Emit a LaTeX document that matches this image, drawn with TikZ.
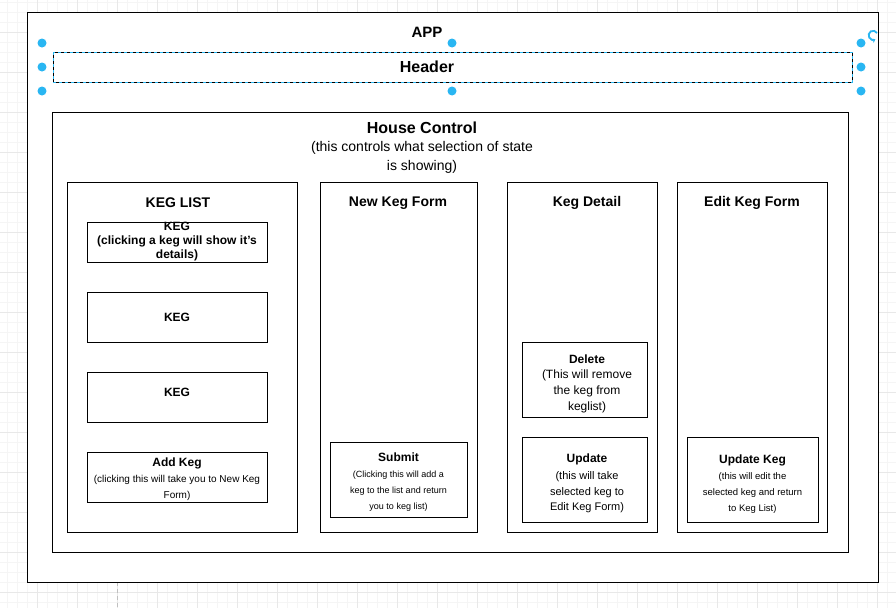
\documentclass[tikz,border=0pt]{standalone}
\usepackage{fontspec}
\setmainfont{Liberation Sans}
\usetikzlibrary{arrows.meta}
\definecolor{hcol}{HTML}{29B6F2}
\newcommand\fsz[2]{\fontsize{#1}{#2}\selectfont}
\newcommand\mybox[5]{\node[box, minimum width={#4-#2}, minimum height={#5-#3}] (#1) at ({(#2+#4)/2},{(#3+#5)/2}) {};}
\begin{document}
\begin{tikzpicture}[x=1pt,y=-1pt,
  box/.style={draw=black, line width=1pt, fill=white, inner sep=0pt, outer sep=0pt},
  txt/.style={inner sep=0pt, align=center, text=black},
  minorline/.style={draw=black!4, line width=0.6pt},
  majorline/.style={draw=black!9, line width=0.8pt},
  handle/.style={fill=hcol}]
\useasboundingbox (0,0) rectangle (896,608);
\fill[white] (0,0) rectangle (896,608);
% grid
\foreach \i in {0,...,89} \draw[minorline] ({7+10*\i},0) -- ({7+10*\i},608);
\foreach \j in {0,...,60} \draw[minorline] (0,{2+10*\j}) -- (896,{2+10*\j});
\foreach \i in {0,...,22} \draw[majorline] ({37+40*\i},0) -- ({37+40*\i},608);
\foreach \j in {0,...,15} \draw[majorline] (0,{32+40*\j}) -- (896,{32+40*\j});
\draw[black!25, line width=0.8pt, dash pattern=on 4pt off 3pt] (117,582) -- (117,608);
% boxes
\mybox{app}{27}{12}{878}{582}
\node[txt, font=\fsz{15}{18}\bfseries] (tapp) at (427,32) {APP};
\node[draw=black, line width=1pt, fill=white, inner sep=0pt, outer sep=0pt, minimum width=799pt, minimum height=30pt] (header) at (452.5,67) {};
\draw[hcol, line width=1pt, dash pattern=on 3pt off 3pt] (header.north west) rectangle (header.south east);
\node[txt, font=\fsz{16}{19}\bfseries] (theader) at (427,67) {Header};
\mybox{house}{52}{112}{848}{552}
\node[txt, font=\fsz{16}{19}\bfseries] (thouse) at (422,128) {House Control};
\node[txt, font=\fsz{14}{19}] (shouse) at (422,157.5) {(this controls what selection of state\\is showing)};
% columns
\mybox{keglist}{67}{182}{297}{532}
\mybox{newkeg}{320}{182}{477}{532}
\mybox{kegdetail}{507}{182}{657}{532}
\mybox{editkeg}{677}{182}{827}{532}
\node[txt, font=\fsz{14}{16}\bfseries] (tkeglist) at (178,203) {KEG LIST};
\node[txt, font=\fsz{14}{16}\bfseries] (tnewkeg) at (398,203) {New Keg Form};
\node[txt, font=\fsz{14}{16}\bfseries] (tkegdetail) at (587,203) {Keg Detail};
\node[txt, font=\fsz{14}{16}\bfseries] (teditkeg) at (752,203) {Edit Keg Form};
% keg list items
\mybox{keg1}{87}{222}{267}{262}
\mybox{keg2}{87}{292}{267}{342}
\mybox{keg3}{87}{372}{267}{422}
\mybox{addkeg}{87}{452}{267}{502}
\node[txt, font=\fsz{12}{14}\bfseries] (tkeg1) at (177,242) {KEG\\(clicking a keg will show it's\\details)};
\node[txt, font=\fsz{12}{14}\bfseries] (tkeg2) at (177,317) {KEG};
\node[txt, font=\fsz{12}{14}\bfseries] (tkeg3) at (177,392) {KEG};
\node[txt, font=\fsz{12}{14}\bfseries] (taddkeg) at (177,463) {Add Keg};
\node[txt, font=\fsz{10}{16}] (baddkeg) at (177,488) {(clicking this will take you to New Keg\\Form)};
% new keg form
\mybox{submit}{330}{442}{467}{517}
\node[txt, font=\fsz{12}{14}\bfseries] (tsubmit) at (398.5,457) {Submit};
\node[txt, font=\fsz{9}{16}] (bsubmit) at (398.5,491) {(Clicking this will add a\\keg to the list and return\\you to keg list)};
% keg detail
\mybox{delete}{522}{342}{647}{417}
\mybox{update}{522}{437}{647}{522}
\node[txt, font=\fsz{12}{14}\bfseries] (tdelete) at (587,359) {Delete};
\node[txt, font=\fsz{12}{16}] (bdelete) at (587,391) {(This will remove\\the keg from\\keglist)};
\node[txt, font=\fsz{12}{14}\bfseries] (tupdate) at (587,459) {Update};
\node[txt, font=\fsz{11}{15.5}] (bupdate) at (587,492.5) {(this will take\\selected keg to\\Edit Keg Form)};
% edit keg form
\mybox{updatekeg}{687}{437}{818}{522}
\node[txt, font=\fsz{12}{14}\bfseries] (tupdatekeg) at (752.5,460) {Update Keg};
\node[txt, font=\fsz{9.5}{16}] (bupdatekeg) at (752.5,493) {(this will edit the\\selected keg and return\\to Keg List)};
% selection handles
\foreach \hx in {42,452,861} \foreach \hy in {43,67,91} {
  \ifnum\hx=452 \ifnum\hy=67 \else \fill[handle] (\hx,\hy) circle (4.5); \fi
  \else \fill[handle] (\hx,\hy) circle (4.5); \fi }
\draw[hcol, line width=1.8pt, -{Stealth[length=3.5pt,width=5pt]}] (877,33) arc[start angle=-30, end angle=-300, radius=4.5];
\end{tikzpicture}
\end{document}
